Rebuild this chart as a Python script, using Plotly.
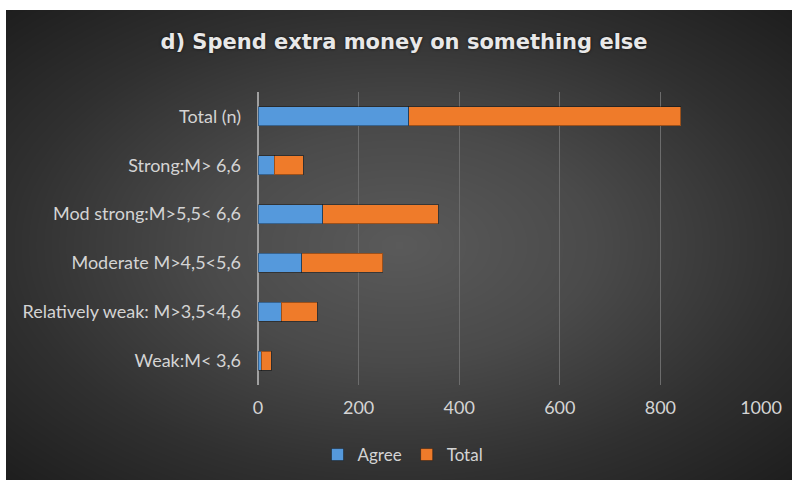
import numpy as np
import plotly.graph_objects as go

# Chart data
categories = [
    "Total (n)",
    "Strong:M> 6,6",
    "Mod strong:M>5,5< 6,6",
    "Moderate M>4,5<5,6",
    "Relatively weak: M>3,5<4,6",
    "Weak:M< 3,6",
]
agree = [300, 32, 129, 87, 46, 6]
total = [540, 58, 229, 161, 72, 20]
x_ticks = [0, 200, 400, 600, 800, 1000]

W, H = 792, 482

# Radial background shading (dark grey, lighter toward the middle)
nx, ny = 120, 80
gx = np.linspace(-1, 1, nx)
gy = np.linspace(-1, 1, ny)
XX, YY = np.meshgrid(gx, gy)
dist = np.sqrt(XX ** 2 + YY ** 2) / np.sqrt(2)
bg_scale = [[0.0, "#5a5a5a"], [0.35, "#4a4a4a"], [0.7, "#303030"], [1.0, "#1e1e1e"]]

fig = go.Figure()

fig.add_trace(go.Heatmap(
    z=dist, x=gx, y=gy, colorscale=bg_scale, zmin=0, zmax=1,
    zsmooth="best", showscale=False, hoverinfo="skip",
    xaxis="x", yaxis="y", showlegend=False,
))

bar_line = dict(color="rgba(0,0,0,0.35)", width=1)
fig.add_trace(go.Bar(
    y=categories, x=agree, name="Agree", orientation="h",
    marker=dict(color="#5599dc", line=bar_line),
    xaxis="x2", yaxis="y2",
))
fig.add_trace(go.Bar(
    y=categories, x=total, name="Total", orientation="h",
    marker=dict(color="#ef7b2a", line=bar_line),
    xaxis="x2", yaxis="y2",
))

label_color = "#d4d4d4"

fig.update_layout(
    width=W, height=H,
    autosize=False,
    margin=dict(l=0, r=0, t=0, b=0, autoexpand=False),
    paper_bgcolor="white",
    plot_bgcolor="rgba(0,0,0,0)",
    barmode="stack",
    bargap=0.61,
    title=dict(
        text="<b>d) Spend extra money on something else</b>",
        x=404 / W, xanchor="center", y=1 - 42 / H, yanchor="middle",
        font=dict(family="DejaVu Sans", size=21, color="#e8e8e8",
                  shadow="0px 0px 3px rgba(0,0,0,0.7)"),
    ),
    xaxis=dict(domain=[6 / W, 1], range=[-1, 1], visible=False, fixedrange=True),
    yaxis=dict(domain=[2 / H, 1 - 10 / H], range=[-1, 1], visible=False, fixedrange=True),
    xaxis2=dict(
        domain=[258 / W, 761 / W], anchor="y2", range=[0, 1000],
        tickvals=x_ticks, ticktext=[str(v) for v in x_ticks],
        showgrid=True, gridcolor="#6c6c6c", gridwidth=1,
        zeroline=True, zerolinecolor="#a0a0a0", zerolinewidth=1.5,
        showline=False, ticks="", ticklabelstandoff=10,
        tickfont=dict(family="Lato", size=18, color=label_color),
    ),
    yaxis2=dict(
        domain=[1 - 385 / H, 1 - 92 / H], anchor="x2",
        autorange="reversed", showgrid=False, zeroline=False, ticks="",
        ticklabelstandoff=16,
        tickfont=dict(family="Lato", size=18, color=label_color),
    ),
    legend=dict(
        orientation="h", x=403 / W, xanchor="center", y=1 - 455 / H, yanchor="middle",
        font=dict(family="Lato", size=17, color=label_color),
        bgcolor="rgba(0,0,0,0)", traceorder="normal", itemwidth=30,
    ),
)

fig.write_html(
    "out.html",
    config={"responsive": False},
    post_script="document.documentElement.style.overflow='hidden';"
                "document.body.style.overflow='hidden';",
)
